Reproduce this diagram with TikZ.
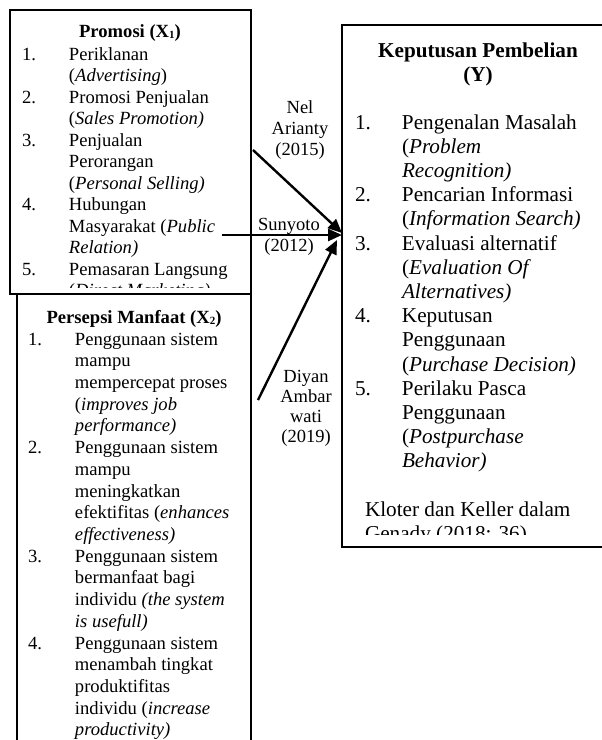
\documentclass[tikz,border=0pt]{standalone}
\usepackage{fontspec}
\setmainfont{Liberation Serif}
\usetikzlibrary{arrows.meta}
\newcommand\nbx[1]{\makebox[47pt][l]{#1}}
\newcommand\sfnt{\fontsize{18.6pt}{21.5pt}\selectfont}
\newcommand\yfnt{\fontsize{21.2pt}{24.2pt}\selectfont}
\newcommand\lfnt{\fontsize{18.5pt}{21pt}\selectfont}
\newcommand\subx[1]{\raisebox{-1.5pt}{\fontsize{11pt}{11pt}\selectfont #1}}
\begin{document}
\begin{tikzpicture}[x=1pt,y=-1pt,
  box/.style={draw, line width=2pt, inner sep=0pt, outer sep=0pt, anchor=north west},
  txt/.style={inner sep=0pt, outer sep=0pt, anchor=base west},
  ttl/.style={inner sep=0pt, outer sep=0pt, anchor=base},
  arr/.style={line width=2.4pt, -{Triangle[length=14pt,width=12pt]}}]
\useasboundingbox (0,0) rectangle (602,740);
\begin{scope}
\clip (0,0) rectangle (602,740);
\node[box, minimum width=241pt, minimum height=284pt] (bx1) at (10,10) {};
\node[box, minimum width=234pt, minimum height=480pt] (bx2) at (17,294) {};
\node[box, minimum width=280pt, minimum height=522pt] (by) at (342,25) {};

% Box 1
\begin{scope}
\clip (10,10) rectangle (251,287);
\node[ttl, font=\sfnt] (t1) at (130,37) {\textbf{Promosi (X\subx{1})}};
\node[txt, font=\sfnt] (l1) at (22,60) {\begin{tabular}[t]{@{}l@{}}
\nbx{1.}Periklanan\\
\nbx{}(\textit{Advertising})\\
\nbx{2.}Promosi Penjualan\\
\nbx{}(\textit{Sales Promotion)}\\
\nbx{3.}Penjualan\\
\nbx{}Perorangan\\
\nbx{}(\textit{Personal Selling)}\\
\nbx{4.}Hubungan\\
\nbx{}Masyarakat (\textit{Public}\\
\nbx{}\textit{Relation)}\\
\nbx{5.}Pemasaran Langsung\\
\nbx{}(\textit{Direct Marketing)}
\end{tabular}};
\end{scope}

% Box 2
\node[ttl, font=\sfnt] (t2) at (134,323) {\textbf{Persepsi Manfaat (X\subx{2})}};
\node[txt, font=\fontsize{18.6pt}{21.72pt}\selectfont] (l2) at (28,345) {\begin{tabular}[t]{@{}l@{}}
\nbx{1.}Penggunaan sistem\\
\nbx{}mampu\\
\nbx{}mempercepat proses\\
\nbx{}(\textit{improves job}\\
\nbx{}\textit{performance)}\\
\nbx{2.}Penggunaan sistem\\
\nbx{}mampu\\
\nbx{}meningkatkan\\
\nbx{}efektifitas (\textit{enhances}\\
\nbx{}\textit{effectiveness)}\\
\nbx{3.}Penggunaan sistem\\
\nbx{}bermanfaat bagi\\
\nbx{}individu \textit{(the system}\\
\nbx{}\textit{is usefull)}\\
\nbx{4.}Penggunaan sistem\\
\nbx{}menambah tingkat\\
\nbx{}produktifitas\\
\nbx{}individu (\textit{increase}\\
\nbx{}\textit{productivity)}
\end{tabular}};

% Box Y
\begin{scope}
\clip (342,25) rectangle (602,534);
\node[ttl, font=\yfnt] (ty) at (478,57) {\begin{tabular}[t]{@{}c@{}}\textbf{Keputusan Pembelian}\\\textbf{(Y)}\end{tabular}};
\node[txt, font=\yfnt] (ly) at (355,129) {\begin{tabular}[t]{@{}l@{}}
\nbx{1.}Pengenalan Masalah\\
\nbx{}(\textit{Problem}\\
\nbx{}\textit{Recognition)}\\
\nbx{2.}Pencarian Informasi\\
\nbx{}(\textit{Information Search)}\\
\nbx{3.}Evaluasi alternatif\\
\nbx{}(\textit{Evaluation Of}\\
\nbx{}\textit{Alternatives)}\\
\nbx{4.}Keputusan\\
\nbx{}Penggunaan\\
\nbx{}(\textit{Purchase Decision)}\\
\nbx{5.}Perilaku Pasca\\
\nbx{}Penggunaan\\
\nbx{}(\textit{Postpurchase}\\
\nbx{}\textit{Behavior)}
\end{tabular}};
\node[txt, font=\yfnt] (src) at (365,516) {\begin{tabular}[t]{@{}l@{}}Kloter dan Keller dalam\\Genady (2018: 36)\end{tabular}};
\end{scope}

% labels
\node[ttl, font=\lfnt] (nel) at (300,113) {\begin{tabular}[t]{@{}c@{}}Nel\\Arianty\\(2015)\end{tabular}};
\node[ttl, font=\lfnt] (sun) at (289,230) {\begin{tabular}[t]{@{}c@{}}Sunyoto\\(2012)\end{tabular}};
\node[ttl, font=\fontsize{18.5pt}{20pt}\selectfont] (diy) at (306,382) {\begin{tabular}[t]{@{}c@{}}Diyan\\Ambar\\wati\\(2019)\end{tabular}};

% arrows
\coordinate (nelA) at (253,150);
\coordinate (nelB) at (342,233);
\coordinate (sunA) at (222,235);
\coordinate (sunB) at (342,235);
\coordinate (diyA) at (258,400);
\coordinate (diyB) at (337,240);
\draw[arr] (nelA) -- (nelB);
\draw[arr] (sunA) -- (sunB);
\draw[arr] (diyA) -- (diyB);
\end{scope}
\end{tikzpicture}
\end{document}
